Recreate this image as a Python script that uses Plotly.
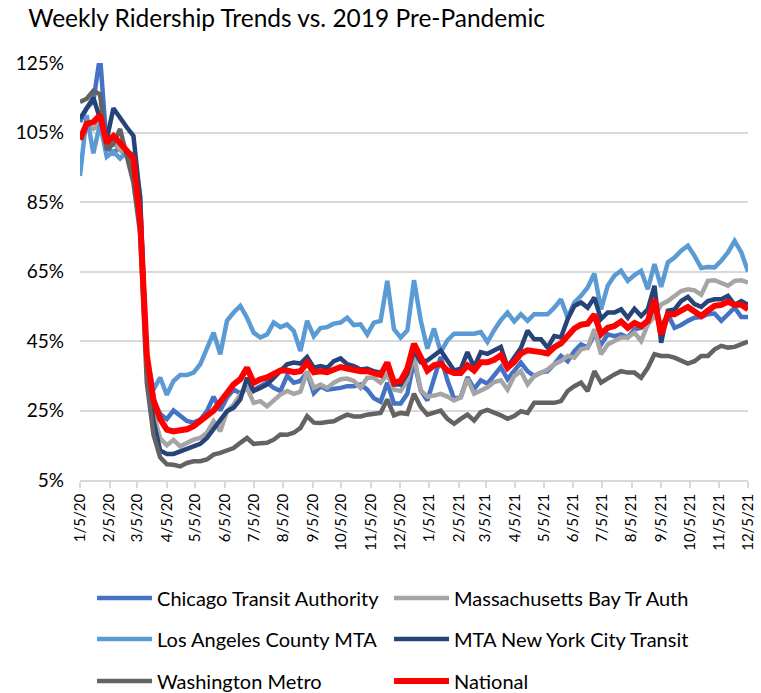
import plotly.graph_objects as go
import pandas as pd

weeks = pd.date_range("2020-01-05", periods=101, freq="7D")

tick_dates = ["2020-01-05", "2020-02-05", "2020-03-05", "2020-04-05", "2020-05-05", "2020-06-05",
              "2020-07-05", "2020-08-05", "2020-09-05", "2020-10-05", "2020-11-05", "2020-12-05",
              "2021-01-05", "2021-02-05", "2021-03-05", "2021-04-05", "2021-05-05", "2021-06-05",
              "2021-07-05", "2021-08-05", "2021-09-05", "2021-10-05", "2021-11-05", "2021-12-05"]
tick_labels = ["1/5/20", "2/5/20", "3/5/20", "4/5/20", "5/5/20", "6/5/20", "7/5/20", "8/5/20",
               "9/5/20", "10/5/20", "11/5/20", "12/5/20", "1/5/21", "2/5/21", "3/5/21", "4/5/21",
               "5/5/21", "6/5/21", "7/5/21", "8/5/21", "9/5/21", "10/5/21", "11/5/21", "12/5/21"]

y_ticks = [5, 25, 45, 65, 85, 105, 125]
y_labels = ["5%", "25%", "45%", "65%", "85%", "105%", "125%"]

chicago = [108, 112, 114, 127, 101, 99, 101, 99.5, 98.5, 87, 38, 28, 24, 22.5, 25, 23.5, 22, 21.5, 22.4, 24.8,
           29, 25, 28.7, 31, 30, 31.5, 31, 32, 33, 31.5, 30.6, 35, 33, 33.5, 36, 30, 32, 31, 31.2, 31.5,
           32, 32, 32.5, 31, 28.5, 27.5, 33, 27, 27, 29.8, 39.4, 30.8, 27.9, 34, 40.4, 33.7, 28.4, 28.8, 34.6, 31.2,
           33.7, 32.7, 35.1, 37.5, 34, 36.3, 38.8, 36.3, 34.9, 35.9, 36.3, 38.3, 40.7, 39.2, 42.1, 44, 43.1, 46.9, 44, 46.9,
           46.4, 46.9, 46, 48.4, 48.8, 49.8, 55, 49, 52.7, 48.8, 49.6, 50.8, 51.7, 51.9, 52.7, 52.9, 50.8, 52.7, 54.6, 51.9,
           51.9]

massachusetts = [103, 107, 106, 108, 100, 102, 100, 98, 96, 80, 38, 24, 17, 15, 16.5, 14.7, 15.7, 16.6, 17.1, 18.6,
                 21.9, 19, 24.8, 26.7, 29.6, 31.5, 27.2, 27.7, 26.2, 27.7, 29.6, 30.6, 29.8, 30.4, 36.3, 31.5, 32.5, 31.5, 33, 34,
                 34.2, 33.5, 31.5, 34.4, 34.4, 33, 35.4, 31, 30.6, 33.7, 40.9, 30.8, 29, 29.3, 29.8, 29, 27.9, 28.8, 34.1, 29.8,
                 30.8, 31.7, 33.2, 33.7, 31, 34.9, 36.3, 32.5, 34.9, 35.9, 36.8, 38.3, 39.2, 40.7, 40.2, 42.6, 43.1, 48.4, 41.2, 44,
                 45, 46, 46, 47.4, 45, 49.8, 52, 55.5, 56.5, 58, 59.4, 59.9, 59.6, 58.3, 62.3, 62.5, 61.8, 60.9, 62.3, 62.5,
                 61.8]

los_angeles = [92.5, 110, 99, 107.5, 98, 99.5, 97.5, 99.5, 96, 82, 40, 31, 34.5, 29.5, 33.5, 35.2, 35.2, 35.9, 38.3, 43,
               47.4, 41.2, 50.8, 53.2, 55.1, 51.7, 47.4, 46, 46.9, 50.3, 49, 49.8, 47.9, 42.1, 50.8, 46.4, 48.7, 49, 50, 50.3,
               51.7, 49.6, 49.8, 46.9, 50.3, 50.8, 62.3, 48.4, 46, 48, 62.5, 51, 42.8, 48.6, 41.8, 45.2, 47.1, 47.1, 47.1, 47.1,
               47.6, 44.7, 48.1, 51, 53.2, 50.6, 52.7, 50.8, 52.7, 52.7, 52.7, 54.6, 57, 51.7, 56.1, 58, 60.4, 64.4, 54.1, 60.9,
               63.8, 65.2, 62.3, 64, 65.2, 59.9, 67.1, 60.6, 67.6, 69, 71, 72.4, 69.5, 66, 66.3, 66.2, 68.1, 70.5, 73.8, 70.5,
               65]

new_york = [109, 112, 115, 109, 103, 112, 109, 106.5, 104, 86, 38, 22, 13.5, 12.5, 12.5, 13.3, 13.8, 14.7, 15.4, 17.1,
            19.5, 22.4, 24.8, 25.8, 28.2, 34.4, 30.6, 31.5, 32.5, 34.4, 36.3, 38.3, 38.8, 38.5, 40.4, 37.3, 37.8, 37.3, 39.2, 40,
            38.3, 37.8, 36.8, 37.1, 36.3, 35.9, 37.8, 32.5, 32.5, 35.6, 42.3, 38.9, 39.4, 40.8, 42.3, 39.4, 36.5, 37, 41.8, 37.5,
            41.8, 41.3, 42.3, 43.3, 37.5, 40.5, 43, 48, 45.5, 45.5, 43.1, 46.4, 46, 51.3, 55.1, 56.1, 54.6, 57.5, 51.3, 53.2,
            53.2, 54.1, 51.7, 54.3, 52.2, 54.1, 60.9, 44.5, 53.7, 54.1, 56.5, 57.7, 55.6, 54.8, 56.5, 57, 57, 58, 55.4, 56.5,
            55.4]

washington = [113.8, 114.7, 117, 116, 100, 101.8, 106, 98, 90.5, 76, 33, 18, 11.5, 9.5, 9.4, 8.9, 9.9, 10.4, 10.4, 10.9,
              12.3, 12.8, 13.5, 14.2, 15.7, 17.1, 15.4, 15.7, 15.7, 16.6, 18.1, 18, 18.6, 20, 23.4, 21.5, 21.4, 21.7, 21.9, 22.9,
              23.8, 23.3, 23.3, 23.8, 24, 24.3, 28.2, 23.6, 24.3, 24, 29.8, 26, 23.8, 24.5, 25, 22.6, 21.2, 22.6, 23.8, 22.1,
              24.5, 25.2, 24.5, 23.6, 22.6, 23.4, 24.8, 24.3, 27.2, 27.2, 26.9, 27.2, 27.7, 30.6, 32, 33, 30.6, 36.3, 33, 34.4,
              35.4, 36.3, 35.9, 35.9, 34.4, 37.3, 41.2, 40.7, 40.7, 40.2, 39.2, 38.5, 39.2, 40.7, 40.7, 42.6, 43.6, 43.1, 43.3, 44.2,
              44.8]

national = [103, 107.5, 108, 110, 102, 104, 102, 100, 97.5, 80, 41, 28, 22.5, 19.5, 19, 19.3, 19.6, 20.5, 22, 23,
            25, 27.5, 30, 32.5, 34, 37.3, 33, 34, 34.5, 35.5, 36.5, 36.5, 36, 36.3, 38.8, 36, 36.3, 36, 36.8, 37.5,
            37.1, 36.5, 36.3, 36.3, 35.6, 35.2, 38.8, 33, 33.5, 37, 44.2, 40.4, 36.5, 38, 38.5, 36.5, 35.8, 35.8, 38, 36.5,
            38.9, 38.9, 39.6, 40.9, 37.3, 39, 41.4, 42.3, 42.2, 41.8, 41.4, 43.2, 44.3, 46.3, 48.6, 49.7, 50, 52.6, 47, 48.8,
            49.3, 50.6, 48.8, 50.2, 49.3, 50.8, 57, 46.9, 52.7, 52.7, 53.7, 54.8, 53.5, 52.2, 53.7, 55.1, 55.4, 56.3, 55.4, 55.4,
            54.1]

series = [
    ("Chicago Transit Authority", chicago, "#4472C4", 4.5),
    ("Massachusetts Bay Tr Auth", massachusetts, "#A5A5A5", 4.5),
    ("Los Angeles County MTA", los_angeles, "#5B9BD5", 4.5),
    ("MTA New York City Transit", new_york, "#264478", 4.5),
    ("Washington Metro", washington, "#636363", 4.5),
    ("National", national, "#FF0000", 6),
]

# legend slots (col, row) in reading order
legend_x = [0.018, 0.4626]
legend_y = [-0.2830, -0.3813, -0.4820]

fig = go.Figure()
legend_layouts = {}
for i, (name, vals, color, w) in enumerate(series):
    key = "legend" if i == 0 else f"legend{i + 1}"
    fig.add_trace(go.Scatter(x=weeks, y=vals, mode="lines", name=name, legend=key,
                             line=dict(color=color, width=w)))
    legend_layouts[key] = dict(x=legend_x[i % 2], xanchor="left", y=legend_y[i // 2], yanchor="middle",
                               font=dict(size=20, color="#000000"), itemwidth=55,
                               bgcolor="rgba(0,0,0,0)", borderwidth=0)

fig.update_layout(
    width=761, height=693,
    margin=dict(l=80, r=13, t=63, b=213, autoexpand=False),
    paper_bgcolor="white", plot_bgcolor="white",
    font=dict(family="Lato, Calibri, sans-serif", color="#000000"),
    title=dict(text="Weekly Ridership Trends vs. 2019 Pre-Pandemic", x=0.037, xanchor="left",
               y=0.974, yanchor="middle", font=dict(size=24.5, color="#000000")),
    showlegend=True,
    **legend_layouts,
)

fig.update_xaxes(
    type="date", range=["2020-01-05", "2021-12-05"],
    tickvals=tick_dates, ticktext=tick_labels, tickangle=-90,
    tickfont=dict(size=15), showgrid=False,
    showline=True, linecolor="#D9D9D9", linewidth=1.5,
    ticks="outside", ticklen=6, tickcolor="#D9D9D9", tickwidth=1.5,
)
fig.update_yaxes(
    range=[5, 125], tickvals=y_ticks, ticktext=y_labels, tickfont=dict(size=19),
    showgrid=True, gridcolor="#D9D9D9", gridwidth=1.5, zeroline=False,
    ticks="", ticklabelstandoff=15,
)

fig.write_html("out.html", config={"displayModeBar": False},
               post_script="document.body.style.margin='0px'; document.body.style.overflow='hidden';")
